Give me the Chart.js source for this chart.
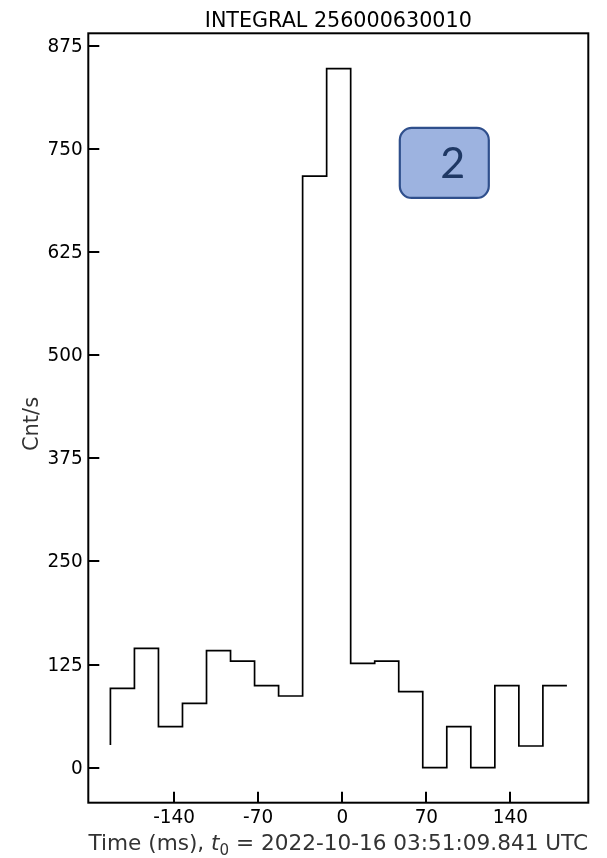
<!DOCTYPE html>
<html>
<head>
<meta charset="utf-8">
<script src="https://cdn.jsdelivr.net/npm/chart.js@4"></script>
<style>
  html, body { margin: 0; padding: 0; background: #fff; }
  canvas { display: block; }
</style>
</head>
<body>
<canvas id="lc" width="607" height="858"></canvas>
<script>
// Light curve: step points at bin edges (ms from t0) and count rate (Cnt/s)
const binTimes = [-193, -173, -153, -133, -113, -93, -73, -53, -33, -13, 7, 27, 47, 67, 87, 107, 127, 147, 167, 187];
const countRates = [27.5, 96.2, 144.7, 49.7, 78.1, 141.8, 129.3, 99.4, 86.9, 717.1, 847.2, 126.5, 129.3, 92.1, 0, 49.7, 0, 99.4, 26.3, 99.4];

const xTickValues = [-140, -70, 0, 70, 140];
const yTickValues = [0, 125, 250, 375, 500, 625, 750, 875];

const titleText = 'INTEGRAL 256000630010';
const yAxisLabel = 'Cnt/s';
const xLabelPrefix = 'Time (ms), ';
const xLabelVar = 't';
const xLabelSub = '0';
const xLabelSuffix = ' = 2022-10-16 03:51:09.841 UTC';
const badgeText = '2';

const FONT = '"DejaVu Sans", sans-serif';
const TICK_FONT = '19px ' + FONT;
const TICK_SX = 0.97; // slightly narrowed tick digits

// Frame, inward tick marks, tick labels, titles and the numbered badge
const decorations = {
  id: 'decorations',
  afterDraw(chart) {
    const { ctx, chartArea: a, scales: { x, y } } = chart;
    ctx.save();

    // axes frame
    ctx.strokeStyle = '#000';
    ctx.lineWidth = 2;
    ctx.strokeRect(a.left, a.top, a.right - a.left, a.bottom - a.top);

    // inward ticks
    ctx.beginPath();
    for (const t of x.ticks) {
      const px = Math.round(x.getPixelForValue(t.value));
      ctx.moveTo(px, a.bottom);
      ctx.lineTo(px, a.bottom - 11);
    }
    for (const t of y.ticks) {
      const py = Math.round(y.getPixelForValue(t.value));
      ctx.moveTo(a.left, py);
      ctx.lineTo(a.left + 11, py);
    }
    ctx.stroke();

    // tick labels
    ctx.fillStyle = '#000';
    ctx.font = TICK_FONT;
    ctx.textAlign = 'center';
    ctx.textBaseline = 'alphabetic';
    for (const t of x.ticks) {
      ctx.save();
      ctx.translate(x.getPixelForValue(t.value), a.bottom + 20);
      ctx.scale(TICK_SX, 1);
      ctx.fillText(t.label, 0, 0);
      ctx.restore();
    }
    ctx.textAlign = 'right';
    ctx.textBaseline = 'middle';
    for (const t of y.ticks) {
      ctx.save();
      ctx.translate(a.left - 5.5, y.getPixelForValue(t.value) + 1);
      ctx.scale(TICK_SX, 1);
      ctx.fillText(t.label, 0, 0);
      ctx.restore();
    }

    const cx = (a.left + a.right) / 2;
    const cy = (a.top + a.bottom) / 2;

    // title
    ctx.fillStyle = '#000';
    ctx.font = '20.7px ' + FONT;
    ctx.textAlign = 'center';
    ctx.textBaseline = 'alphabetic';
    ctx.fillText(titleText, cx, 27);

    // y axis label
    ctx.save();
    ctx.translate(38, cy + 6);
    ctx.rotate(-Math.PI / 2);
    ctx.fillStyle = '#333';
    ctx.font = '21px ' + FONT;
    ctx.textAlign = 'center';
    ctx.fillText(yAxisLabel, 0, 0);
    ctx.restore();

    // x axis label with italic t and subscript 0
    const size = 21.6;
    const parts = [
      { t: xLabelPrefix, f: size + 'px ' + FONT, dy: 0 },
      { t: xLabelVar, f: 'italic ' + size + 'px ' + FONT, dy: 0 },
      { t: xLabelSub, f: (size * 0.7).toFixed(1) + 'px ' + FONT, dy: size * 0.22 },
      { t: xLabelSuffix, f: size + 'px ' + FONT, dy: 0 }
    ];
    ctx.textAlign = 'left';
    ctx.fillStyle = '#333';
    let total = 0;
    for (const p of parts) { ctx.font = p.f; p.w = ctx.measureText(p.t).width; total += p.w; }
    let px = cx - total / 2;
    const base = 850;
    for (const p of parts) {
      ctx.font = p.f;
      ctx.fillText(p.t, px, base + p.dy);
      px += p.w;
    }

    // numbered badge
    const bx = a.left + (a.right - a.left) * 0.623;
    const by = a.top + (a.bottom - a.top) * 0.123;
    const bw = 89, bh = 70, r = 12;
    ctx.beginPath();
    ctx.roundRect(bx, by, bw, bh, r);
    ctx.fillStyle = '#9db3e0';
    ctx.fill();
    ctx.lineWidth = 2.2;
    ctx.strokeStyle = '#2f4f8c';
    ctx.stroke();
    ctx.fillStyle = '#1f3864';
    ctx.font = '43px Lato, "Open Sans", sans-serif';
    ctx.textAlign = 'center';
    ctx.textBaseline = 'middle';
    ctx.fillText(badgeText, bx + 53, by + bh / 2 + 1);

    ctx.restore();
  }
};

new Chart(document.getElementById('lc'), {
  type: 'line',
  data: {
    datasets: [{
      data: binTimes.map((t, i) => ({ x: t, y: countRates[i] })),
      stepped: 'after',
      borderColor: '#000',
      borderWidth: 1.7,
      pointRadius: 0,
      fill: false
    }]
  },
  options: {
    responsive: false,
    animation: false,
    devicePixelRatio: 1,
    layout: { padding: { top: 33.3, right: 18.7, left: 0, bottom: 0 } },
    plugins: { legend: { display: false }, tooltip: { enabled: false }, title: { display: false } },
    scales: {
      x: {
        type: 'linear',
        min: -211.4,
        max: 204.8,
        afterBuildTicks: s => { s.ticks = xTickValues.map(v => ({ value: v })); },
        afterFit: s => { s.height = 55.3; },
        grid: { display: false, drawTicks: false },
        border: { display: false },
        ticks: { display: false, autoSkip: false, maxRotation: 0 }
      },
      y: {
        type: 'linear',
        min: -42.4,
        max: 890.1,
        afterBuildTicks: s => { s.ticks = yTickValues.map(v => ({ value: v })); },
        afterFit: s => { s.width = 88.3; },
        grid: { display: false, drawTicks: false },
        border: { display: false },
        ticks: { display: false, autoSkip: false }
      }
    }
  },
  plugins: [decorations]
});
</script>
</body>
</html>
